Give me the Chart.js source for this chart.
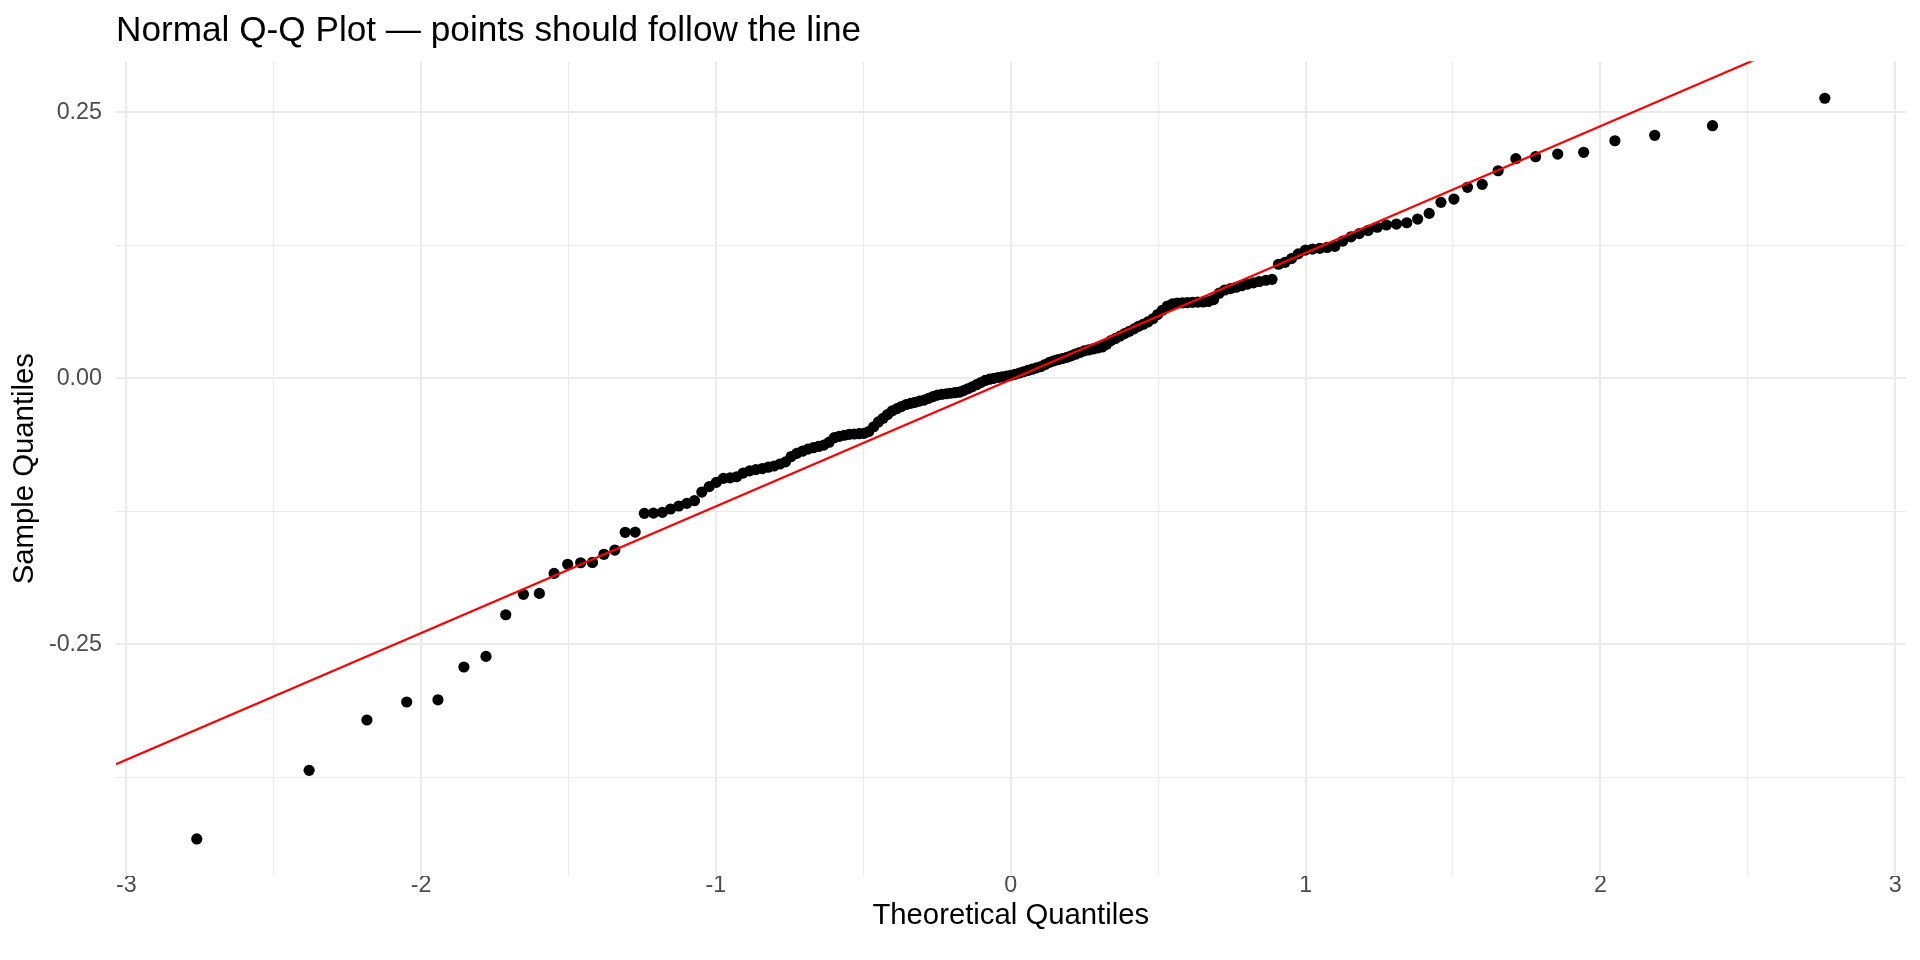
<!DOCTYPE html>
<html>
<head>
<meta charset="utf-8">
<script src="https://cdn.jsdelivr.net/npm/chart.js@4.4.1/dist/chart.umd.min.js"></script>
<style>
  html, body { margin: 0; padding: 0; background: #ffffff; }
  #wrap { width: 1920px; height: 960px; }
  canvas { display: block; }
</style>
</head>
<body>
<div id="wrap"><canvas id="c" width="1920" height="960"></canvas></div>
<script>
// ---- Data ----
const chartTitle = "Normal Q-Q Plot \u2014 points should follow the line";
const xAxisTitle = "Theoretical Quantiles";
const yAxisTitle = "Sample Quantiles";

// theoretical normal quantiles (x positions of the 173 points)
const theoreticalQ = [
  -2.761,-2.380,-2.184,-2.049,-1.943,-1.855,-1.780,-1.713,-1.653,-1.599,
  -1.549,-1.503,-1.459,-1.419,-1.380,-1.343,-1.308,-1.274,-1.243,-1.212,
  -1.182,-1.154,-1.126,-1.099,-1.073,-1.048,-1.023,-0.999,-0.975,-0.952,
  -0.930,-0.908,-0.886,-0.865,-0.843,-0.823,-0.803,-0.783,-0.764,-0.745,
  -0.726,-0.707,-0.688,-0.670,-0.652,-0.634,-0.616,-0.599,-0.582,-0.565,
  -0.548,-0.531,-0.514,-0.498,-0.482,-0.465,-0.449,-0.433,-0.418,-0.402,
  -0.386,-0.371,-0.355,-0.340,-0.325,-0.310,-0.294,-0.279,-0.264,-0.249,
  -0.234,-0.219,-0.205,-0.190,-0.175,-0.160,-0.146,-0.131,-0.116,-0.102,
  -0.087,-0.072,-0.058,-0.043,-0.029,-0.014,
  0.000,
  0.014,0.029,0.043,0.058,0.072,0.087,0.102,0.116,0.131,0.146,
  0.160,0.175,0.190,0.205,0.219,0.234,0.249,0.264,0.279,0.294,
  0.310,0.325,0.340,0.355,0.371,0.386,0.402,0.418,0.433,0.449,
  0.465,0.482,0.498,0.514,0.531,0.548,0.565,0.582,0.599,0.616,
  0.634,0.652,0.670,0.688,0.707,0.726,0.745,0.764,0.783,0.803,
  0.823,0.843,0.865,0.886,0.908,0.930,0.952,0.975,0.999,1.023,
  1.048,1.073,1.099,1.126,1.154,1.182,1.212,1.243,1.274,1.308,
  1.343,1.380,1.419,1.459,1.503,1.549,1.599,1.653,1.713,1.780,
  1.855,1.943,2.049,2.184,2.380,2.761
];

// sorted sample values (y positions of the 173 points)
const sampleQ = [
  -0.4329,-0.3684,-0.3211,-0.3042,-0.3021,-0.2713,-0.2613,-0.2222,-0.2030,-0.2021,
  -0.1833,-0.1748,-0.1733,-0.1730,-0.1654,-0.1614,-0.1447,-0.1445,-0.1269,-0.1267,
  -0.1260,-0.1228,-0.1200,-0.1175,-0.1150,-0.1069,-0.1018,-0.0978,-0.0940,-0.0935,
  -0.0925,-0.0890,-0.0870,-0.0858,-0.0848,-0.0835,-0.0824,-0.0805,-0.0785,-0.0735,
  -0.0705,-0.0685,-0.0665,-0.0652,-0.0640,-0.0627,-0.0600,-0.0558,-0.0545,-0.0535,
  -0.0526,-0.0523,-0.0520,-0.0517,-0.0500,-0.0455,-0.0410,-0.0375,-0.0340,-0.0305,
  -0.0285,-0.0265,-0.0246,-0.0235,-0.0225,-0.0214,-0.0204,-0.0188,-0.0172,-0.0158,
  -0.0150,-0.0145,-0.0140,-0.0135,-0.0130,-0.0115,-0.0098,-0.0080,-0.0060,-0.0040,
  -0.0020,-0.0008,0.0000,0.0008,0.0015,0.0021,
  0.0028,
  0.0038,0.0050,0.0062,0.0074,0.0086,0.0098,0.0110,0.0130,0.0150,0.0165,
  0.0175,0.0185,0.0197,0.0212,0.0227,0.0243,0.0258,0.0267,0.0276,0.0285,
  0.0295,0.0320,0.0355,0.0375,0.0398,0.0420,0.0442,0.0465,0.0488,0.0508,
  0.0530,0.0560,0.0600,0.0640,0.0680,0.0700,0.0708,0.0710,0.0712,0.0714,
  0.0716,0.0718,0.0722,0.0740,0.0800,0.0830,0.0843,0.0856,0.0870,0.0885,
  0.0898,0.0910,0.0922,0.0930,0.1072,0.1090,0.1125,0.1170,0.1205,0.1215,
  0.1222,0.1230,0.1240,0.1290,0.1330,0.1360,0.1390,0.1420,0.1441,0.1450,
  0.1462,0.1497,0.1550,0.1654,0.1685,0.1795,0.1823,0.1951,0.2064,0.2083,
  0.2108,0.2124,0.2233,0.2284,0.2374,0.2632
];

// reference line (qq line)
const qqLineIntercept = -0.0012;
const qqLineSlope = 0.1191;

// axis limits and ticks
const xLimits = [-3.035, 3.035];
const yLimits = [-0.4677, 0.2980];
const xTickValues = [-3, -2.5, -2, -1.5, -1, -0.5, 0, 0.5, 1, 1.5, 2, 2.5, 3];
const xTickLabels = ["-3", "", "-2", "", "-1", "", "0", "", "1", "", "2", "", "3"];
const yTickValues = [-0.375, -0.25, -0.125, 0, 0.125, 0.25];
const yTickLabels = ["", "-0.25", "", "0.00", "", "0.25"];

// ---- Build chart ----
const FONT = "'Liberation Sans', Arial, Helvetica, sans-serif";
const points = theoreticalQ.map((x, i) => ({ x: x, y: sampleQ[i] }));
const lineData = xLimits.map(x => ({ x: x, y: qqLineIntercept + qqLineSlope * x }));

new Chart(document.getElementById('c'), {
  data: {
    datasets: [
      {
        type: 'line',
        data: lineData,
        borderColor: '#FF0000',
        borderWidth: 2.2,
        pointRadius: 0,
        fill: false,
        order: 0
      },
      {
        type: 'scatter',
        data: points,
        backgroundColor: '#000000',
        borderColor: '#000000',
        borderWidth: 0,
        pointRadius: 5.6,
        pointHoverRadius: 5.6,
        order: 1
      }
    ]
  },
  options: {
    responsive: false,
    animation: false,
    devicePixelRatio: 1,
    layout: { padding: { top: 0, right: 14.4, bottom: 0, left: 0 } },
    plugins: {
      legend: { display: false },
      tooltip: { enabled: false },
      title: {
        display: true,
        text: chartTitle,
        align: 'start',
        fullSize: false,
        color: '#000000',
        font: { family: FONT, size: 35.2, weight: 'normal', lineHeight: 1.2 },
        padding: { top: 10.3, bottom: 8.7 }
      }
    },
    scales: {
      x: {
        type: 'linear',
        position: 'bottom',
        min: xLimits[0],
        max: xLimits[1],
        afterBuildTicks: (scale) => { scale.ticks = xTickValues.map(v => ({ value: v })); },
        afterFit: (scale) => { scale.height = 84; scale.paddingLeft = 0; scale.paddingRight = 0; },
        ticks: {
          autoSkip: false,
          maxRotation: 0,
          padding: -4,
          color: '#4D4D4D',
          font: { family: FONT, size: 23.3 },
          callback: (value, index) => xTickLabels[index]
        },
        grid: {
          drawTicks: false,
          color: '#EBEBEB',
          lineWidth: (ctx) => (xTickLabels[ctx.index] !== "" ? 2.1 : 1.1)
        },
        border: { display: false },
        title: {
          display: true,
          text: xAxisTitle,
          color: '#000000',
          font: { family: FONT, size: 29.3, lineHeight: 1.2 },
          padding: { top: 0, bottom: 26.4 }
        }
      },
      y: {
        type: 'linear',
        position: 'left',
        min: yLimits[0],
        max: yLimits[1],
        afterBuildTicks: (scale) => { scale.ticks = yTickValues.map(v => ({ value: v })); },
        afterFit: (scale) => { scale.width = 116; scale.paddingTop = 0; scale.paddingBottom = 0; },
        ticks: {
          autoSkip: false,
          padding: 14,
          color: '#4D4D4D',
          font: { family: FONT, size: 23.3 },
          callback: (value, index) => yTickLabels[index]
        },
        grid: {
          drawTicks: false,
          color: '#EBEBEB',
          lineWidth: (ctx) => (yTickLabels[ctx.index] !== "" ? 2.1 : 1.1)
        },
        border: { display: false },
        title: {
          display: true,
          text: yAxisTitle,
          color: '#000000',
          font: { family: FONT, size: 29.3, lineHeight: 1.2 },
          padding: { top: 7.4, bottom: 0 }
        }
      }
    }
  }
});
</script>
</body>
</html>
